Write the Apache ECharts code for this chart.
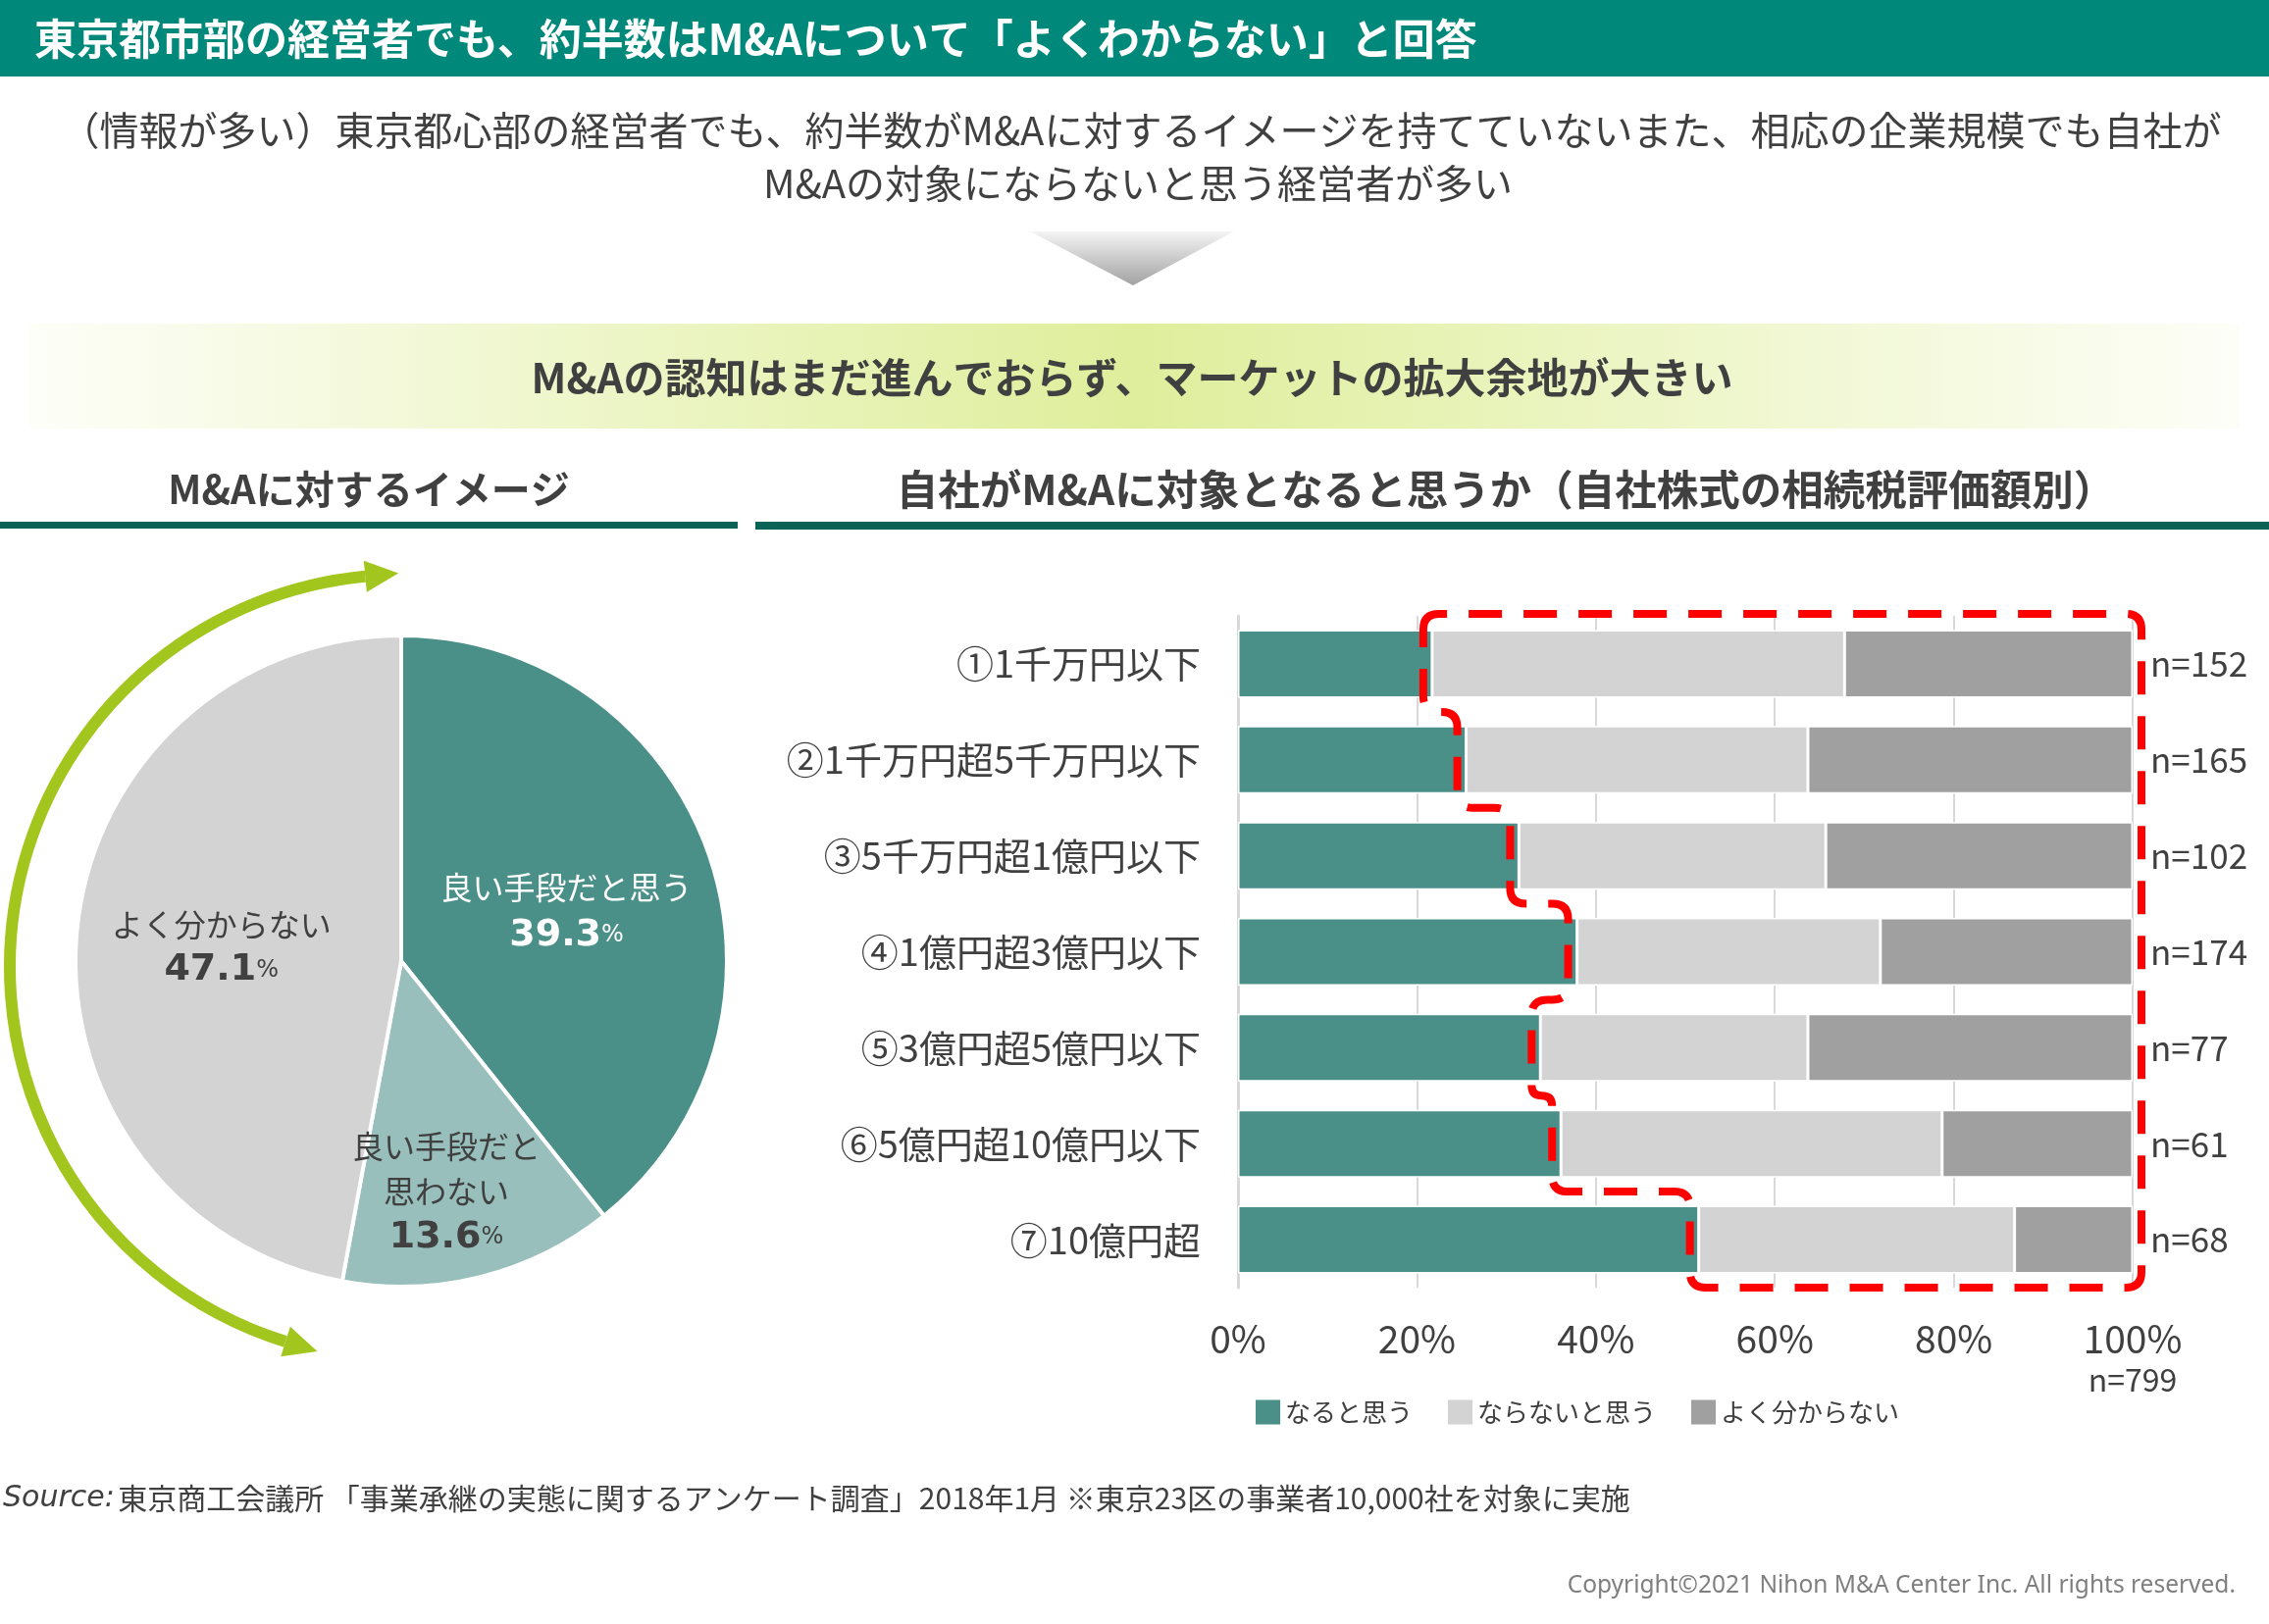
<!DOCTYPE html>
<html><head><meta charset="utf-8">
<script src="https://cdn.jsdelivr.net/npm/echarts@6/dist/echarts.min.js"></script>
<style>html,body{margin:0;padding:0;background:#fff}#c{width:2313px;height:1656px}</style>
</head><body><div id="c"></div>
<script>
// ---------- data ----------
const headerTitle = '東京都市部の経営者でも、約半数はM&Aについて「よくわからない」と回答';
const subLine1 = '（情報が多い）東京都心部の経営者でも、約半数がM&Aに対するイメージを持てていないまた、相応の企業規模でも自社が';
const subLine2 = 'M&Aの対象にならないと思う経営者が多い';
const bandText = 'M&Aの認知はまだ進んでおらず、マーケットの拡大余地が大きい';
const leftHeading = 'M&Aに対するイメージ';
const rightHeading = '自社がM&Aに対象となると思うか（自社株式の相続税評価額別）';
const sourceLabel = 'Source:';
const sourceText = '東京商工会議所 「事業承継の実態に関するアンケート調査」2018年1月 ※東京23区の事業者10,000社を対象に実施';
const copyright = 'Copyright©2021 Nihon M&A Center Inc. All rights reserved.';

const pieNames = ['良い手段だと思う', '良い手段だと思わない', 'よく分からない'];
const pieLabelNames = ['良い手段だと思う', '良い手段だと\n思わない', 'よく分からない'];
const pieValues = [39.3, 13.6, 47.1];

const categories = ['①1千万円以下', '②1千万円超5千万円以下', '③5千万円超1億円以下', '④1億円超3億円以下', '⑤3億円超5億円以下', '⑥5億円超10億円以下', '⑦10億円超'];
const seriesNames = ['なると思う', 'ならないと思う', 'よく分からない'];
const nariValues = [21.7, 25.5, 31.4, 37.9, 33.8, 36.1, 51.5];
const naranaiValues = [46.1, 38.2, 34.3, 33.9, 29.9, 42.6, 35.3];
const wakaranaiValues = [32.2, 36.3, 34.3, 28.2, 36.3, 21.3, 13.2];
const nLabels = ['n=152', 'n=165', 'n=102', 'n=174', 'n=77', 'n=61', 'n=68'];
const totalN = 'n=799';
const xTickStep = 20;

// ---------- styles ----------
const TEAL = '#4B8F89', LTEAL = '#98BFBB', LGRAY = '#D3D3D3', DGRAY = '#A0A0A0';
const TXT = '#404040';
const JP = '"Noto Sans CJK JP"';

// ---------- decorations ----------
function arrowHead(E, u, L, w) {
  const n = [-u[1], u[0]];
  return [[E[0] + u[0] * L, E[1] + u[1] * L], [E[0] + n[0] * w, E[1] + n[1] * w], [E[0] - n[0] * w, E[1] - n[1] * w]];
}
const ac = [410, 986], arR = 400;
const th1 = 107.3 * Math.PI / 180, th2 = 264.6 * Math.PI / 180;
const E1 = [ac[0] + arR * Math.cos(th1), ac[1] + arR * Math.sin(th1)];
const E2 = [ac[0] + arR * Math.cos(th2), ac[1] + arR * Math.sin(th2)];
const head1 = arrowHead(E1, [Math.sin(th1), -Math.cos(th1)], 34, 16);
const head2 = arrowHead(E2, [-Math.sin(th2), Math.cos(th2)], 34, 16);
const GREEN = '#A3C61E';

function txt(x, y, text, font, fill, align) {
  return { type: 'text', x: x, y: y, style: { text: text, font: font, fill: fill, align: align || 'left', verticalAlign: 'middle', textAlign: align || 'left', textVerticalAlign: 'middle' } };
}

const graphics = [
  { type: 'rect', shape: { x: 0, y: 0, width: 2313, height: 78 }, style: { fill: '#00897B' } },
  txt(35, 40, headerTitle, 'bold 43px ' + JP, '#fff'),
  txt(1163, 133, subLine1, '40px ' + JP, TXT, 'center'),
  txt(1160, 187, subLine2, '40px ' + JP, TXT, 'center'),
  { type: 'polygon', shape: { points: [[1050, 236], [1258, 236], [1155, 291]] },
    style: { fill: new echarts.graphic.LinearGradient(0, 0, 0, 1, [{ offset: 0, color: '#F4F4F4' }, { offset: 1, color: '#A2A2A2' }]) } },
  { type: 'rect', shape: { x: 30, y: 330, width: 2253, height: 107 },
    style: { fill: new echarts.graphic.LinearGradient(0, 0, 1, 0, [{ offset: 0, color: '#FDFEF8' }, { offset: 0.5, color: '#DFEE9C' }, { offset: 1, color: '#FDFEF8' }]) } },
  txt(1154, 385, bandText, 'bold 42px ' + JP, TXT, 'center'),
  txt(376, 499, leftHeading, 'bold 40px ' + JP, TXT, 'center'),
  txt(1535, 499, rightHeading, 'bold 42.5px ' + JP, TXT, 'center'),
  { type: 'rect', shape: { x: 0, y: 532, width: 752, height: 7 }, style: { fill: '#0B6358' } },
  { type: 'rect', shape: { x: 770, y: 532, width: 1543, height: 8 }, style: { fill: '#0B6358' } },
  { type: 'arc', shape: { cx: ac[0], cy: ac[1], r: arR, startAngle: th1, endAngle: th2, clockwise: true }, style: { stroke: GREEN, lineWidth: 12, fill: 'none' } },
  { type: 'polygon', shape: { points: head1 }, style: { fill: GREEN } },
  { type: 'polygon', shape: { points: head2 }, style: { fill: GREEN } },
  { type: 'text', x: 3, y: 1528, style: { rich: { i: { fontStyle: 'italic', fontSize: 30, fontFamily: 'DejaVu Sans', fill: TXT, color: TXT }, t: { fontSize: 30, fontFamily: JP, fill: TXT, color: TXT } },
      text: '{i|' + sourceLabel + '} {t|' + sourceText + '}', verticalAlign: 'middle', textVerticalAlign: 'middle' } },
  txt(2279, 1617, copyright, '24.5px "Noto Sans"', '#7F7F7F', 'right')
];

// ---------- red dashed outline (from nariValues via axis scales) ----------
function roundedPath(pts, r) {
  const clean = [];
  pts.forEach(p => { const q = clean[clean.length - 1]; if (!q || Math.abs(q[0] - p[0]) > 0.5 || Math.abs(q[1] - p[1]) > 0.5) clean.push(p); });
  const n = clean.length; let d = '';
  for (let i = 0; i < n; i++) {
    const p0 = clean[(i - 1 + n) % n], p1 = clean[i], p2 = clean[(i + 1) % n];
    const l1 = Math.hypot(p1[0] - p0[0], p1[1] - p0[1]), l2 = Math.hypot(p2[0] - p1[0], p2[1] - p1[1]);
    const rr = Math.min(r, l1 / 2, l2 / 2);
    const a = [p1[0] + (p0[0] - p1[0]) * rr / l1, p1[1] + (p0[1] - p1[1]) * rr / l1];
    const b = [p1[0] + (p2[0] - p1[0]) * rr / l2, p1[1] + (p2[1] - p1[1]) * rr / l2];
    d += (i === 0 ? 'M' : 'L') + a[0].toFixed(1) + ',' + a[1].toFixed(1) + ' Q' + p1[0].toFixed(1) + ',' + p1[1].toFixed(1) + ' ' + b[0].toFixed(1) + ',' + b[1].toFixed(1) + ' ';
  }
  return d + 'Z';
}
function renderOutline(params, api) {
  const band = api.size([0, 1])[1];
  const last = nariValues.length - 1;
  const xs = nariValues.map((v, i) => api.coord([v, i])[0] - 9);
  const ycs = nariValues.map((v, i) => api.coord([0, i])[1]);
  const top = ycs[0] - band / 2 - 2;
  const bottom = ycs[last] + band / 2;
  const right = api.coord([100, 0])[0] + 9;
  const pts = [[xs[0], top], [right, top], [right, bottom], [xs[last], bottom]];
  for (let i = last; i >= 1; i--) {
    const b = ycs[i] - band / 2;
    pts.push([xs[i], b]); pts.push([xs[i - 1], b]);
  }
  return { type: 'path', shape: { pathData: roundedPath(pts, 16) },
    style: { fill: 'none', stroke: '#FF0000', lineWidth: 8, lineDash: [34, 22] } };
}

// ---------- chart ----------
const chart = echarts.init(document.getElementById('c'), null, { renderer: 'canvas' });
const pieColors = [TEAL, LTEAL, LGRAY];
const pieLabelShift = [[9, 6], [5, 72], [-15, 2]];
const wKey = ['w', 'd', 'd'];

chart.setOption({
  animation: false,
  textStyle: { fontFamily: 'Noto Sans CJK JP' },
  graphic: graphics,
  legend: {
    data: seriesNames, left: 1275, top: 1422, itemWidth: 25, itemHeight: 25, itemGap: 36, icon: 'rect',
    itemStyle: { borderWidth: 0 },
    textStyle: { fontSize: 26, color: TXT, fontFamily: 'Noto Sans CJK JP' }
  },
  grid: { left: 1262, top: 628, width: 912, height: 685, containLabel: false },
  xAxis: {
    type: 'value', min: 0, max: 100, interval: xTickStep,
    axisLine: { show: false }, axisTick: { show: false },
    splitLine: { lineStyle: { color: '#D9D9D9', width: 2 } },
    axisLabel: {
      margin: 31, color: TXT,
      formatter: v => v === 100 ? '{a|' + v + '%}\n{b|' + totalN + '}' : '{a|' + v + '%}',
      rich: { a: { fontSize: 39, color: TXT, lineHeight: 42 }, b: { fontSize: 32, color: TXT, lineHeight: 42 } }
    }
  },
  yAxis: {
    type: 'category', data: categories, inverse: true,
    axisLine: { show: true, lineStyle: { color: '#D9D9D9', width: 3 } },
    axisTick: { show: false },
    axisLabel: { fontSize: 38, color: TXT, margin: 38 }
  },
  series: [
    {
      type: 'pie', center: [409, 980], radius: 332, startAngle: 90, clockwise: true,
      data: pieNames.map((n, i) => ({ name: n, value: pieValues[i], itemStyle: { color: pieColors[i] } })),
      itemStyle: { borderColor: '#fff', borderWidth: 4 },
      label: {
        show: true, position: 'inside',
        formatter: p => { const k = wKey[p.dataIndex]; return '{n' + k + '|' + pieLabelNames[p.dataIndex] + '}\n{v' + k + '|' + p.value + '}{p' + k + '|%}'; },
        rich: {
          nw: { fontSize: 32, color: '#fff', lineHeight: 48 }, vw: { fontSize: 38, fontWeight: 'bold', fontFamily: 'DejaVu Sans', color: '#fff', lineHeight: 50 }, pw: { fontSize: 24, fontFamily: 'DejaVu Sans', color: '#fff', lineHeight: 50 },
          nd: { fontSize: 32, color: TXT, lineHeight: 46 }, vd: { fontSize: 38, fontWeight: 'bold', fontFamily: 'DejaVu Sans', color: TXT, lineHeight: 48 }, pd: { fontSize: 24, fontFamily: 'DejaVu Sans', color: TXT, lineHeight: 48 }
        }
      },
      labelLine: { show: false },
      labelLayout: p => ({ dx: pieLabelShift[p.dataIndex][0], dy: pieLabelShift[p.dataIndex][1] })
    },
    { name: seriesNames[0], type: 'bar', stack: 't', data: nariValues, barWidth: 69,
      itemStyle: { color: TEAL, borderColor: '#fff', borderWidth: 1.5 } },
    { name: seriesNames[1], type: 'bar', stack: 't', data: naranaiValues, barWidth: 69,
      itemStyle: { color: LGRAY, borderColor: '#fff', borderWidth: 1.5 } },
    { name: seriesNames[2], type: 'bar', stack: 't', data: wakaranaiValues, barWidth: 69,
      itemStyle: { color: DGRAY, borderColor: '#fff', borderWidth: 1.5 },
      label: { show: true, position: 'right', distance: 18, fontSize: 35, color: TXT, formatter: p => nLabels[p.dataIndex] } },
    { type: 'custom', coordinateSystem: 'cartesian2d', data: [[0, 0]], encode: { x: 0, y: 1 }, clip: false, z: 10, silent: true,
      renderItem: renderOutline }
  ]
});
</script>
</body></html>
